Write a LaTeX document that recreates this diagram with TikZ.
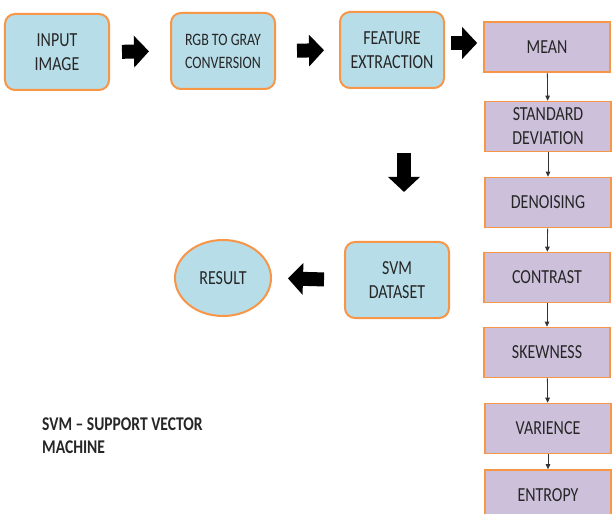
\documentclass[tikz,border=0pt]{standalone}
\usepackage{fontspec}
\setmainfont{Carlito}[FakeStretch=0.8]
\usetikzlibrary{arrows.meta,shapes.geometric}
\definecolor{boxblue}{RGB}{183,221,232}
\definecolor{boxpurple}{RGB}{204,192,218}
\definecolor{boxorange}{RGB}{247,150,70}
\definecolor{textgray}{RGB}{38,38,38}

\begin{document}
\begin{tikzpicture}[x=1bp, y=-1bp,
    font=\fontsize{20}{24}\selectfont, text=textgray,
    stepbox/.style={draw=boxorange, fill=boxblue, line width=2bp, rounded corners=10bp,
      minimum width=104bp, minimum height=76bp, align=center, inner sep=0pt},
    featbox/.style={draw=boxorange, fill=boxpurple, line width=1.6bp,
      minimum width=126bp, minimum height=50bp, align=center, inner sep=0pt},
    bigarrow/.style={line width=14bp, -{Triangle[length=15bp, width=31bp]}},
    thinarrow/.style={line width=0.8bp, draw=black!80, -{Triangle[length=5bp, width=4.5bp]}}
  ]
    \useasboundingbox (0,0) rectangle (612,514);
    \clip (0,0) rectangle (612,514);

    % main flow
    \node[stepbox] (input) at (57,52) {INPUT\\IMAGE};
    \node[stepbox, font=\fontsize{17.5}{23}\selectfont] (rgb) at (223,51) {RGB TO GRAY\\CONVERSION};
    \node[stepbox] (feature) at (392,50) {FEATURE\\EXTRACTION};
    \node[stepbox] (svm) at (397,280) {SVM\\DATASET};
    \node[draw=boxorange, fill=boxblue, line width=2bp, ellipse, inner sep=0pt,
      minimum width=96bp, minimum height=76bp] (result) at (223,278) {RESULT};

    % features
    \node[featbox] (mean) at (547,47) {MEAN};
    \node[featbox] (stddev) at (548,126.5) {STANDARD\\DEVIATION};
    \node[featbox] (denoise) at (548,202.5) {DENOISING};
    \node[featbox] (contrast) at (547,277.5) {CONTRAST};
    \node[featbox] (skew) at (547,352.5) {SKEWNESS};
    \node[featbox] (varience) at (548,428.5) {VARIENCE};
    \node[featbox] (entropy) at (548,495) {ENTROPY};

    \node[anchor=north west, align=left, inner sep=0pt,
      font=\fontsize{19.5}{23}\selectfont\bfseries] (note) at (42,418) {SVM -- SUPPORT VECTOR\\MACHINE};

    % block arrows
    \draw[bigarrow, shorten <=12bp, shorten >=21bp] (input.east) -- (rgb.west);
    \draw[bigarrow, shorten <=21bp, shorten >=15bp] (rgb.east) -- (feature.west);
    \draw[bigarrow, shorten <=6bp, shorten >=6bp] ([yshift=7bp]feature.east) -- ([yshift=7bp]feature.east -| mean.west);
    \draw[bigarrow, shorten <=64bp, shorten >=49bp] ([xshift=12bp]feature.south) -- ([xshift=12bp]feature.south |- svm.north);
    \draw[bigarrow, shorten <=20bp, shorten >=16bp] (svm.west) -- (result.east);

    % thin arrows
    \draw[thinarrow] (mean) -- (stddev);
    \draw[thinarrow] (stddev) -- (denoise);
    \draw[thinarrow] (denoise) -- (contrast);
    \draw[thinarrow] (contrast) -- (skew);
    \draw[thinarrow] (skew) -- (varience);
    \draw[thinarrow] (varience) -- (entropy);
\end{tikzpicture}
\end{document}
